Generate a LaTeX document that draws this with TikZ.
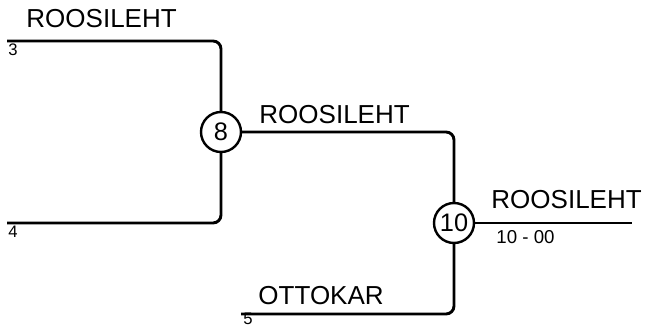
\documentclass[tikz,border=0pt]{standalone}
\usepackage{fontspec}
\setmainfont{Liberation Sans}
\usetikzlibrary{positioning}
\tikzstyle{matchnode}=[circle,draw,line width=1.8pt,minimum size=30pt,inner sep=0pt,font=\fontsize{19}{22}\selectfont]
\tikzstyle{teamname}=[anchor=base west,inner sep=0pt,font=\fontsize{19.5}{23}\selectfont]
\tikzstyle{seed}=[anchor=base west,inner sep=0pt,font=\fontsize{12.5}{14}\selectfont]
\tikzstyle{score}=[anchor=base west,inner sep=0pt,font=\fontsize{14}{17}\selectfont]
\begin{document}
\begin{tikzpicture}[x=0.75pt,y=-0.75pt,line width=2.2pt]
\useasboundingbox (0,0) rectangle (646,327);

%matches
    \node[matchnode] (m8) at (221,132) {8};
    \node[matchnode] (m10) at (454,223) {10};

%entries
    \foreach \x/\y/\name in {7/41/e3, 7/223/e4, 241/314/e5, 632/223/champ}
        \coordinate (\name) at (\x,\y);

    \draw[rounded corners=6pt] (e3) -| (m8);
    \draw[rounded corners=6pt] (e4) -| (m8);
    \draw[rounded corners=6pt] (m8) -| (m10);
    \draw[rounded corners=6pt] (e5) -| (m10);
    \draw (m10) -- (champ);

%labels
    \foreach \x/\y/\name/\txt in {25/28/t3/ROOSILEHT, 258/124/t8/ROOSILEHT, 490/209/t10/ROOSILEHT, 257/305/t5/OTTOKAR}
        \node[teamname] (\name) at (\x,\y) {\txt};
    \foreach \x/\y/\name/\txt in {7/56/s3/3, 7/238/s4/4, 242/325/s5/5}
        \node[seed] (\name) at (\x,\y) {\txt};
    \node[score] (res) at (495,244) {10 - 00};

\end{tikzpicture}
\end{document}
